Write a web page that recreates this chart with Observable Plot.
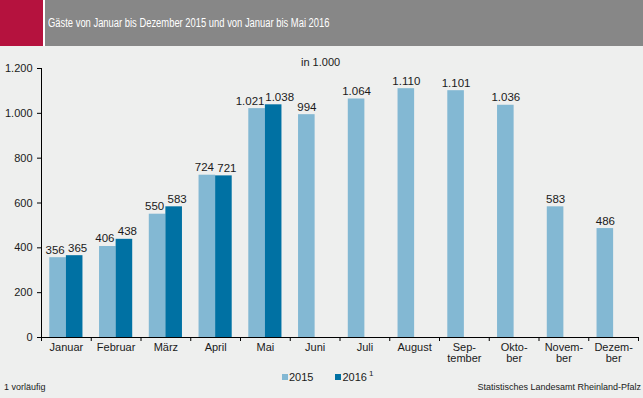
<!DOCTYPE html>
<html>
<head>
<meta charset="utf-8">
<script src="https://cdn.jsdelivr.net/npm/d3@7"></script>
<script src="https://cdn.jsdelivr.net/npm/@observablehq/plot@0.6"></script>
<style>
  html, body { margin: 0; padding: 0; }
  body { width: 643px; height: 398px; position: relative; overflow: hidden; background: #eeefee;
         font-family: "Liberation Sans", Arial, sans-serif; color: #1a1a1a; }
  .abs { position: absolute; white-space: nowrap; }
  #titlebar { left: 0; top: 0; width: 643px; height: 46px; background: #fff; }
  #red { left: 0; top: 0; width: 43px; height: 46px; background: #b5123e; }
  #grey { left: 45px; top: 0; width: 598px; height: 46px; background: #878787; }
  #ttl { left: 48px; top: 0; height: 46px; line-height: 46px; color: #fff; font-size: 12px;
         transform: scaleX(0.783); transform-origin: 0 50%; }
  #chart { left: 0; top: 46px; }
  .sw { display: inline-block; width: 6px; height: 6px; margin-right: 1px; vertical-align: 1px; }
</style>
</head>
<body>
<div id="titlebar" class="abs"><div id="red" class="abs"></div><div id="grey" class="abs"></div><div id="ttl" class="abs">Gäste von Januar bis Dezember 2015 und von Januar bis Mai 2016</div></div>
<div id="chart" class="abs"></div>
<div class="abs" style="left:301px;top:56px;font-size:11px;">in 1.000</div>
<div class="abs" id="legend" style="left:282px;top:369px;font-size:11px;"></div>
<div class="abs" style="left:4px;top:382px;font-size:9px;">1 vorläufig</div>
<div class="abs" style="right:2px;top:382px;font-size:9px;">Statistisches Landesamt Rheinland-Pfalz</div>
<script>
// ---- data ----
const months = ["Januar", "Februar", "März", "April", "Mai", "Juni", "Juli", "August", "September", "Oktober", "November", "Dezember"];
const monthLabels = ["Januar", "Februar", "März", "April", "Mai", "Juni", "Juli", "August", "Sep-\ntember", "Okto-\nber", "Novem-\nber", "Dezem-\nber"];
const values2015 = [356, 406, 550, 724, 1021, 994, 1064, 1110, 1101, 1036, 583, 486];
const values2016 = [365, 438, 583, 721, 1038];
const yTicks = [0, 200, 400, 600, 800, 1000, 1200];
const seriesNames = ["2015", "2016"];

// ---- build rows ----
const rows2015 = values2015.map((v, i) => ({month: months[i], i, year: "2015", value: v, paired: i < values2016.length}));
const rows2016 = values2016.map((v, i) => ({month: months[i], i, year: "2016", value: v}));

const c2015 = "#83b8d3";
const c2016 = "#0071a3";
const fmt = d3.formatLocale({decimal: ",", thousands: ".", grouping: [3], currency: ["", " €"]}).format(",d");

const off = {"2015": 1 / 6, "2016": 1 / 2};
const bw = 1 / 3;
const font = "'Liberation Sans', Arial, sans-serif";
const cx = d => d.i + off[d.year] + bw / 2;
const lbl = {y: "value", text: d => fmt(d.value), lineAnchor: "bottom", dy: -4, fontSize: 11.5, fill: "#1a1a1a"};

const chart = Plot.plot({
  width: 643,
  height: 322,
  marginTop: 22,
  marginBottom: 31,
  marginLeft: 41,
  marginRight: 5,
  style: {background: "transparent", fontFamily: font, fontSize: "11px", color: "#1a1a1a"},
  x: {type: "linear", domain: [0, 12]},
  y: {domain: [0, 1200]},
  marks: [
    Plot.rectY(rows2015, {x1: d => d.i + off[d.year], x2: d => d.i + off[d.year] + bw, y: "value", fill: c2015, inset: 0}),
    Plot.rectY(rows2016, {x1: d => d.i + off[d.year], x2: d => d.i + off[d.year] + bw, y: "value", fill: c2016, inset: 0}),
    Plot.text(rows2015.filter(d => d.paired && d.value < 1000), {...lbl, x: cx, dx: -3}),
    Plot.text(rows2015.filter(d => d.paired && d.value >= 1000), {...lbl, x: cx, dx: -7}),
    Plot.text(rows2015.filter(d => !d.paired), {...lbl, x: cx}),
    Plot.text(rows2016.filter(d => d.value < 1000), {...lbl, x: cx, dx: 3}),
    Plot.text(rows2016.filter(d => d.value >= 1000), {...lbl, x: cx, dx: 6}),
    Plot.axisY({ticks: yTicks, tickSize: 4, tickPadding: 5, tickFormat: fmt, label: null, fontSize: 11, stroke: "#000"}),
    Plot.axisX({ticks: d3.range(13), tickSize: 4, tickFormat: () => "", label: null, stroke: "#000"}),
    Plot.axisX({ticks: d3.range(12).map(i => i + 0.5), tickSize: 0, tickPadding: 6, lineAnchor: "top", tickFormat: d => monthLabels[Math.floor(d)], label: null, fontSize: 11}),
    Plot.ruleY([0], {stroke: "#000"}),
    Plot.ruleX([0], {y1: 0, y2: 1200, stroke: "#000"})
  ]
});
document.getElementById("chart").appendChild(chart);

// legend
const lg = document.getElementById("legend");
lg.innerHTML =
  `<span class="sw" style="background:${c2015}"></span>${seriesNames[0]}` +
  `<span style="display:inline-block;width:22px"></span>` +
  `<span class="sw" style="background:${c2016}"></span>${seriesNames[1]}<sup style="font-size:8px;margin-left:2px">1</sup>`;
</script>
</body>
</html>
